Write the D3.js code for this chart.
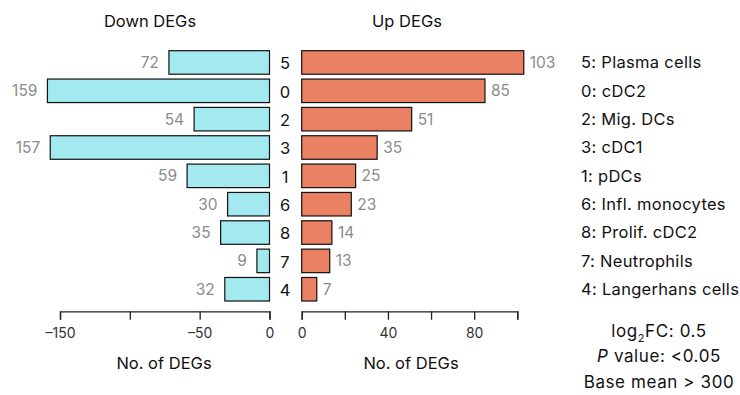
<!DOCTYPE html>
<html>
<head>
<meta charset="utf-8">
<script src="https://cdn.jsdelivr.net/npm/d3@7"></script>
<style>
  html, body { margin: 0; padding: 0; background: #fff; }
  svg { display: block; font-family: Inter, "Noto Sans", sans-serif; }
</style>
</head>
<body>
<svg id="chart" width="740" height="395"></svg>
<script>
// Cluster ids, top to bottom
const clusters = ["5", "0", "2", "3", "1", "6", "8", "7", "4"];
const clusterNames = ["Plasma cells", "cDC2", "Mig. DCs", "cDC1", "pDCs",
  "Infl. monocytes", "Prolif. cDC2", "Neutrophils", "Langerhans cells"];
// Number of down- and up-regulated genes per cluster
const downDEGs = [72, 159, 54, 157, 59, 30, 35, 9, 32];
const upDEGs = [103, 85, 51, 35, 25, 23, 14, 13, 7];
// Axis ticks
const downTicks = [-150, -100, -50, 0];
const downTickLabels = ["–150", "", "–50", "0"];
const upTicks = [0, 20, 40, 60, 80, 100];
const upTickLabels = ["0", "", "40", "", "80", ""];
const thresholds = ["FC: 0.5", " value: <0.05", "Base mean > 300"];

const svg = d3.select("#chart");
const rows = clusters.map((c, i) => ({ c, down: downDEGs[i], up: upDEGs[i], name: clusterNames[i] }));

const y = d3.scaleBand().domain(clusters).range([50.7, 301]).paddingInner(0.17).paddingOuter(0);
const xDown = d3.scaleLinear().domain([-150, 0]).range([60, 269.5]);
const xUp = d3.scaleLinear().domain([0, 100]).range([301.7, 517.3]);

const grey = "#8c8c8c";

// Down bars
svg.append("g").selectAll("rect").data(rows).join("rect")
  .attr("x", d => xDown(-d.down))
  .attr("y", d => y(d.c))
  .attr("width", d => xDown(0) - xDown(-d.down))
  .attr("height", y.bandwidth())
  .attr("fill", "#a2e9f0")
  .attr("stroke", "#111")
  .attr("stroke-width", 1.2);

svg.append("g").selectAll("text").data(rows).join("text")
  .attr("x", d => xDown(-d.down) - 10)
  .attr("y", d => y(d.c) + y.bandwidth() / 2)
  .attr("dy", "0.35em")
  .attr("text-anchor", "end")
  .attr("font-size", 15.5)
  .attr("fill", grey)
  .text(d => d.down);

// Up bars
svg.append("g").selectAll("rect").data(rows).join("rect")
  .attr("x", xUp(0))
  .attr("y", d => y(d.c))
  .attr("width", d => xUp(d.up) - xUp(0))
  .attr("height", y.bandwidth())
  .attr("fill", "#ea8162")
  .attr("stroke", "#111")
  .attr("stroke-width", 1.2);

svg.append("g").selectAll("text").data(rows).join("text")
  .attr("x", d => xUp(d.up) + 6)
  .attr("y", d => y(d.c) + y.bandwidth() / 2)
  .attr("dy", "0.35em")
  .attr("text-anchor", "start")
  .attr("font-size", 15.5)
  .attr("fill", grey)
  .text(d => d.up);

// Cluster ids between the panels
svg.append("g").selectAll("text").data(rows).join("text")
  .attr("x", 285)
  .attr("y", d => y(d.c) + y.bandwidth() / 2)
  .attr("dy", "0.42em")
  .attr("text-anchor", "middle")
  .attr("font-size", 16.5)
  .attr("fill", "#111")
  .text(d => d.c);

// Axes
function styleAxis(g) {
  g.select(".domain").attr("stroke", "#222").attr("stroke-width", 1.3);
  g.selectAll(".tick line").attr("stroke", "#222").attr("stroke-width", 1.3);
  g.selectAll(".tick text").attr("font-size", 14).attr("fill", "#333")
    .attr("font-family", "Inter, 'Noto Sans', sans-serif");
}
const axisY = 311.3;
svg.append("g").attr("transform", `translate(0,${axisY})`)
  .call(d3.axisBottom(xDown).tickValues(downTicks)
    .tickFormat((d, i) => downTickLabels[i]).tickSizeOuter(0).tickSize(8.5).tickPadding(8))
  .call(styleAxis);
svg.append("g").attr("transform", `translate(0,${axisY})`)
  .call(d3.axisBottom(xUp).tickValues(upTicks)
    .tickFormat((d, i) => upTickLabels[i]).tickSizeOuter(0).tickSize(8.5).tickPadding(8))
  .call(styleAxis);

// Titles
const titles = [
  { x: 150, y: 21, t: "Down DEGs" },
  { x: 407, y: 21, t: "Up DEGs" },
  { x: 164, y: 363, t: "No. of DEGs" },
  { x: 411, y: 363, t: "No. of DEGs" }
];
svg.append("g").selectAll("text").data(titles).join("text")
  .attr("x", d => d.x).attr("y", d => d.y)
  .attr("dy", "0.35em")
  .attr("text-anchor", "middle")
  .attr("font-size", 16.5)
  .attr("fill", "#111")
  .text(d => d.t);

// Cluster legend
svg.append("g").selectAll("text").data(rows).join("text")
  .attr("x", 581)
  .attr("y", d => y(d.c) + y.bandwidth() / 2)
  .attr("dy", "0.35em")
  .attr("font-size", 16.5)
  .attr("letter-spacing", 0.3)
  .attr("fill", "#111")
  .text(d => `${d.c}: ${d.name}`);

// Thresholds
const th = svg.append("g").attr("font-size", 17).attr("letter-spacing", 0.6)
  .attr("fill", "#111").attr("text-anchor", "middle");
const t1 = th.append("text").attr("x", 659).attr("y", 331).attr("dy", "0.35em");
t1.append("tspan").text("log");
t1.append("tspan").attr("font-size", 11).attr("dy", "0.45em").text("2");
t1.append("tspan").attr("dy", "-0.3em").text(thresholds[0]);
const t2 = th.append("text").attr("x", 659).attr("y", 356).attr("dy", "0.35em");
t2.append("tspan").attr("font-style", "italic").text("P");
t2.append("tspan").text(thresholds[1]);
th.append("text").attr("x", 659).attr("y", 382).attr("dy", "0.35em").text(thresholds[2]);
</script>
</body>
</html>
